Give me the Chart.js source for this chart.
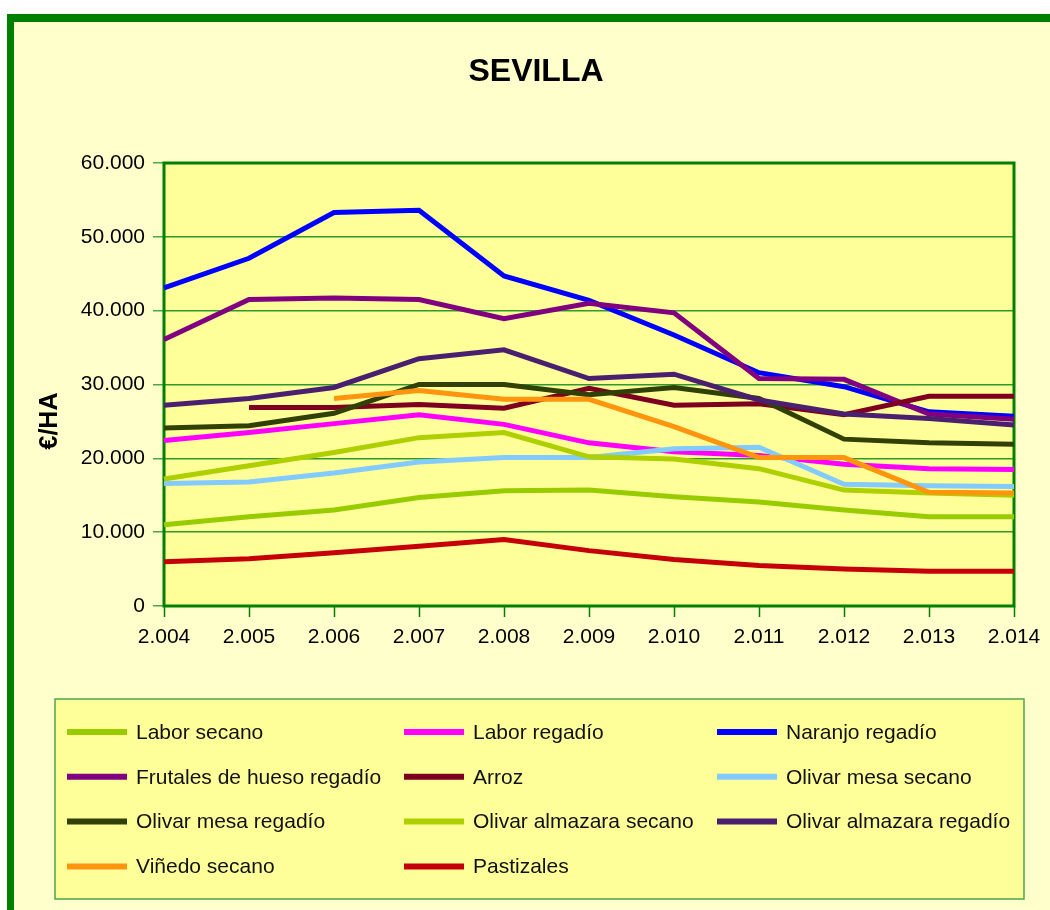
<!DOCTYPE html>
<html>
<head>
<meta charset="utf-8">
<script src="https://cdn.jsdelivr.net/npm/chart.js@4"></script>
<style>
  html, body { margin: 0; padding: 0; background: #ffffff; }
  #wrap { width: 1050px; height: 910px; }
</style>
</head>
<body>
<div id="wrap"><canvas id="sevillaChart" width="1050" height="910"></canvas></div>
<script>
// years on the x axis
const years = ["2.004", "2.005", "2.006", "2.007", "2.008", "2.009", "2.010", "2.011", "2.012", "2.013", "2.014"];

// €/ha per crop
const laborSecano = [11000, 12100, 13000, 14700, 15600, 15700, 14800, 14100, 13000, 12100, 12100];
const laborRegadio = [22400, 23500, 24700, 25900, 24600, 22100, 20900, 20400, 19200, 18600, 18500];
const naranjoRegadio = [43100, 47100, 53300, 53600, 44700, 41400, 36700, 31600, 29700, 26300, 25700];
const frutalesRegadio = [36100, 41500, 41700, 41500, 38900, 41000, 39700, 30800, 30700, 26000, 25300];
const arroz = [null, 26900, 26900, 27300, 26800, 29500, 27200, 27400, 25900, 28400, 28400];
const olivarMesaSecano = [16600, 16800, 18000, 19500, 20100, 20100, 21300, 21500, 16500, 16300, 16200];
const olivarMesaRegadio = [24100, 24400, 26100, 30000, 30000, 28600, 29600, 28100, 22600, 22100, 21900];
const olivarAlmazaraSecano = [17200, 19000, 20800, 22800, 23500, 20200, 19900, 18600, 15700, 15300, 15000];
const olivarAlmazaraRegadio = [27200, 28100, 29600, 33500, 34700, 30800, 31400, 27900, 26000, 25400, 24500];
const vinedoSecano = [null, null, 28100, 29200, 28000, 28000, 24300, 20100, 20100, 15400, 15300];
const pastizales = [6000, 6400, 7200, 8100, 9000, 7500, 6300, 5500, 5000, 4700, 4700];

const yTicks = [0, 10000, 20000, 30000, 40000, 50000, 60000];

const series = [
  { label: "Labor secano", data: laborSecano, color: "#99CC00" },
  { label: "Labor regadío", data: laborRegadio, color: "#FF00FF" },
  { label: "Naranjo regadío", data: naranjoRegadio, color: "#0000FF" },
  { label: "Frutales de hueso regadío", data: frutalesRegadio, color: "#800080" },
  { label: "Arroz", data: arroz, color: "#7E0021" },
  { label: "Olivar mesa secano", data: olivarMesaSecano, color: "#83CAFF" },
  { label: "Olivar mesa regadío", data: olivarMesaRegadio, color: "#314004" },
  { label: "Olivar almazara secano", data: olivarAlmazaraSecano, color: "#AECF00" },
  { label: "Olivar almazara regadío", data: olivarAlmazaraRegadio, color: "#4B1F6F" },
  { label: "Viñedo secano", data: vinedoSecano, color: "#FF950E" },
  { label: "Pastizales", data: pastizales, color: "#C5000B" },
];

const FONT = "'Liberation Sans', Arial, sans-serif";

// outer frame, plot background and plot border
const framePlugin = {
  id: "frame",
  beforeDraw(chart) {
    const { ctx, chartArea: a } = chart;
    ctx.save();
    ctx.fillStyle = "#ffffff";
    ctx.fillRect(0, 0, chart.width, chart.height);
    ctx.fillStyle = "#FFFFCC";
    ctx.fillRect(7, 14, chart.width, chart.height);
    ctx.fillStyle = "#008000";
    ctx.fillRect(7, 14, 7, chart.height);
    ctx.fillRect(7, 14, chart.width, 8);
    ctx.fillStyle = "#FFFF99";
    ctx.fillRect(a.left, a.top, a.right - a.left, a.bottom - a.top);
    ctx.restore();
  },
  beforeDatasetsDraw(chart) {
    const { ctx, chartArea: a } = chart;
    ctx.save();
    ctx.strokeStyle = "#008000";
    ctx.lineWidth = 3;
    ctx.strokeRect(a.left, a.top, a.right - a.left, a.bottom - a.top);
    ctx.restore();
  },
};

// title, y axis title and the boxed legend in three columns
const textPlugin = {
  id: "texts",
  afterDraw(chart) {
    const { ctx } = chart;
    ctx.save();
    ctx.fillStyle = "#000000";
    ctx.textAlign = "center";
    ctx.textBaseline = "middle";
    ctx.font = "bold 32px " + FONT;
    ctx.fillText("SEVILLA", 536, 72);

    ctx.save();
    ctx.translate(50, 421);
    ctx.rotate(-Math.PI / 2);
    ctx.font = "bold 25px " + FONT;
    ctx.fillText("€/HA", 0, 0);
    ctx.restore();

    ctx.textAlign = "left";
    ctx.fillStyle = "#FFFF99";
    ctx.fillRect(55, 699, 969, 200);
    ctx.strokeStyle = "#4CA64C";
    ctx.lineWidth = 1.5;
    ctx.strokeRect(55, 699, 969, 200);

    const colX = [67, 404, 717];
    ctx.font = "21px " + FONT;
    chart.data.datasets.forEach((ds, i) => {
      const x = colX[i % 3];
      const y = 732 + Math.floor(i / 3) * 44.8;
      ctx.strokeStyle = ds.borderColor;
      ctx.lineWidth = 6;
      ctx.beginPath();
      ctx.moveTo(x, y);
      ctx.lineTo(x + 60, y);
      ctx.stroke();
      ctx.fillStyle = "#111111";
      ctx.fillText(ds.label, x + 69, y + 1);
    });
    ctx.restore();
  },
};

const ctx = document.getElementById("sevillaChart").getContext("2d");
new Chart(ctx, {
  type: "line",
  data: {
    labels: years,
    datasets: series.map((s, i) => ({
      label: s.label,
      data: s.data,
      borderColor: s.color,
      backgroundColor: s.color,
      borderWidth: 5,
      pointRadius: 0,
      tension: 0,
      fill: false,
      order: -i,
    })),
  },
  options: {
    responsive: false,
    animation: false,
    layout: { padding: { left: 31, right: 36, top: 163, bottom: 264 } },
    plugins: {
      legend: { display: false },
      tooltip: { enabled: false },
      title: { display: false },
    },
    scales: {
      x: {
        offset: false,
        grid: {
          drawOnChartArea: false,
          drawTicks: true,
          tickLength: 11,
          tickColor: "#008000",
          tickWidth: 1.5,
        },
        border: { display: false },
        ticks: {
          color: "#000000",
          font: { family: FONT, size: 21 },
          padding: 8,
          maxRotation: 0,
          autoSkip: false,
        },
        afterFit(scale) { scale.height = 40; },
      },
      y: {
        min: 0,
        max: 60000,
        afterBuildTicks(scale) { scale.ticks = yTicks.map((v) => ({ value: v })); },
        grid: {
          color: "#2E9A2E",
          lineWidth: 1.5,
          tickLength: 11,
          tickColor: "#4CA64C",
        },
        border: { display: false },
        ticks: {
          color: "#000000",
          font: { family: FONT, size: 21 },
          padding: 8,
          callback: (v) => (v === 0 ? "0" : v.toLocaleString("de-DE")),
        },
        afterFit(scale) { scale.width = 133; },
      },
    },
  },
  plugins: [framePlugin, textPlugin],
});
</script>
</body>
</html>
